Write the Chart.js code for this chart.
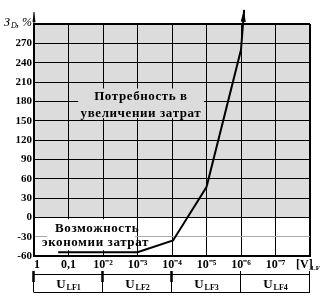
<!DOCTYPE html>
<html>
<head>
<meta charset="utf-8">
<script src="https://cdn.jsdelivr.net/npm/chart.js@4"></script>
<style>
  html, body { margin: 0; padding: 0; background: #fff; }
  #wrap { width: 321px; height: 298px; }
</style>
</head>
<body>
<div id="wrap"><canvas id="chart"></canvas></div>
<script>
const xLabels = ['1', '0,1', '10⁻²', '10⁻³', '10⁻⁴', '10⁻⁵', '10⁻⁶', '10⁻⁷'];
const xPos = [0.7, 3, 4.03, 5, 6, 6.09];
const costPct = [-54, -54, -36, 47, 260, 322];
const zones = ['LF1', 'LF2', 'LF3', 'LF4'];
const FONT = "'Liberation Serif', 'Times New Roman', serif";

const decor = {
  id: 'decor',
  beforeDraw(chart) {
    const { ctx, chartArea: a, scales: { y } } = chart;
    ctx.save();
    ctx.fillStyle = '#dcdcdc';
    const y0 = y.getPixelForValue(0);
    ctx.fillRect(a.left, a.top, a.right - a.left, y0 - a.top);
    ctx.restore();
  },
  beforeDatasetsDraw(chart) {
    const { ctx, scales: { x, y } } = chart;
    const box = (x1, x2, y1, y2, fill) => {
      ctx.fillStyle = fill;
      const px1 = x.getPixelForValue(x1), px2 = x.getPixelForValue(x2);
      const py1 = y.getPixelForValue(y1), py2 = y.getPixelForValue(y2);
      ctx.fillRect(px1, py1, px2 - px1, py2 - py1);
    };
    const text = (s, xv, yv) => ctx.fillText(s, x.getPixelForValue(xv), y.getPixelForValue(yv));
    ctx.save();
    box(1.28, 4.93, 200, 154, '#dcdcdc');
    box(0.38, 2.93, -3, -51, '#fff');
    ctx.fillStyle = '#000';
    ctx.font = 'bold 13px ' + FONT;
    ctx.letterSpacing = '0.6px';
    ctx.textAlign = 'center';
    ctx.textBaseline = 'middle';
    text('Потребность в', 3.1, 188);
    text('увеличении затрат', 3.1, 161);
    text('Возможность', 1.83, -18);
    text('экономии затрат', 1.78, -39);
    ctx.restore();
  },
  afterDraw(chart) {
    const { ctx, chartArea: a, scales: { x } } = chart;
    const meta = chart.getDatasetMeta(0).data;
    ctx.save();
    // arrow head at the end of the curve
    const p = meta[meta.length - 1], q = meta[meta.length - 2];
    const ang = Math.atan2(p.y - q.y, p.x - q.x);
    ctx.fillStyle = '#000';
    ctx.beginPath();
    ctx.moveTo(p.x, p.y);
    ctx.lineTo(p.x - 12 * Math.cos(ang) + 2.5 * Math.sin(ang), p.y - 12 * Math.sin(ang) - 2.5 * Math.cos(ang));
    ctx.lineTo(p.x - 12 * Math.cos(ang) - 2.5 * Math.sin(ang), p.y - 12 * Math.sin(ang) + 2.5 * Math.cos(ang));
    ctx.closePath();
    ctx.fill();
    // y axis arrow
    ctx.beginPath();
    ctx.moveTo(a.left, a.top - 12);
    ctx.lineTo(a.left - 1.5, a.top - 2);
    ctx.lineTo(a.left + 1.5, a.top - 2);
    ctx.closePath();
    ctx.fill();
    ctx.fillRect(a.left - 0.5, a.top - 12, 1, 12);
    // y axis title
    ctx.textBaseline = 'alphabetic';
    ctx.textAlign = 'left';
    ctx.font = 'italic 12px ' + FONT;
    ctx.fillText('З', 4, 26);
    ctx.font = 'italic 8px ' + FONT;
    ctx.fillText('D', 11, 28);
    ctx.font = 'italic 12px ' + FONT;
    ctx.fillText(', %', 16, 26);
    // x axis unit
    ctx.font = 'bold 12px ' + FONT;
    ctx.fillText('[V]', 296, 268);
    ctx.font = 'bold 7px ' + FONT;
    ctx.fillText('LF', 311, 270);
    // zone table
    const top = 274, bot = 292;
    ctx.strokeStyle = '#000';
    ctx.lineWidth = 1;
    ctx.beginPath();
    ctx.moveTo(x.getPixelForValue(0), top + 0.5);
    ctx.lineTo(x.getPixelForValue(8), top + 0.5);
    ctx.moveTo(x.getPixelForValue(0), bot + 0.5);
    ctx.lineTo(x.getPixelForValue(8), bot + 0.5);
    for (let i = 0; i <= 8; i += 2) {
      const px = Math.round(x.getPixelForValue(i)) - 0.5;
      ctx.moveTo(px, top - 3);
      ctx.lineTo(px, bot + 0.5);
    }
    ctx.stroke();
    ctx.lineWidth = 2.5;
    ctx.beginPath();
    [0, 2, 4].forEach(i => {
      const px = Math.round(x.getPixelForValue(i)) - 0.5;
      ctx.moveTo(px, top - 3);
      ctx.lineTo(px, top + 8);
    });
    ctx.stroke();
    zones.forEach((z, i) => {
      const cx = x.getPixelForValue(i * 2 + 1);
      ctx.font = 'bold 13px ' + FONT;
      const w1 = ctx.measureText('U').width;
      ctx.font = 'bold 8px ' + FONT;
      const w2 = ctx.measureText(z).width;
      const sx = cx - (w1 + w2 + 1) / 2;
      ctx.font = 'bold 13px ' + FONT;
      ctx.fillText('U', sx, 288);
      ctx.font = 'bold 8px ' + FONT;
      ctx.fillText(z, sx + w1 + 1, 290);
    });
    ctx.restore();
  }
};

new Chart(document.getElementById('chart'), {
  type: 'line',
  data: {
    datasets: [{
      data: xPos.map((v, i) => ({ x: v, y: costPct[i] })),
      borderColor: '#000',
      borderWidth: 2,
      pointRadius: 0,
      tension: 0,
      clip: false
    }]
  },
  options: {
    responsive: true,
    maintainAspectRatio: false,
    animation: false,
    layout: { padding: { top: 24, right: 11, left: 0, bottom: 0 } },
    plugins: { legend: { display: false }, tooltip: { enabled: false } },
    scales: {
      x: {
        type: 'linear',
        min: 0,
        max: 8,
        afterFit: (s) => { s.height = 42; },
        ticks: {
          stepSize: 1,
          padding: 2,
          color: '#000',
          font: { family: FONT, size: 12, weight: 'bold' },
          maxRotation: 0,
          autoSkip: false,
          callback: (v) => (v === 0 ? '  1' : (xLabels[v] || ''))
        },
        grid: {
          color: '#000',
          lineWidth: (c) => (c.tick && c.tick.value === 8 ? 2 : 1),
          drawTicks: false
        },
        border: { color: '#000', width: 2 }
      },
      y: {
        min: -60,
        max: 300,
        afterFit: (s) => { s.width = 34; },
        ticks: {
          stepSize: 30,
          padding: 2,
          color: '#000',
          font: { family: FONT, size: 11, weight: 'bold' },
          callback: (v) => (v === 300 ? '' : v)
        },
        grid: {
          color: (c) => (c.tick && c.tick.value === -30 ? '#a8a8a8' : '#000'),
          lineWidth: (c) => (c.tick && c.tick.value === 300 ? 2 : 1),
          drawTicks: false
        },
        border: { color: '#000', width: 2 }
      }
    }
  },
  plugins: [decor]
});
</script>
</body>
</html>
